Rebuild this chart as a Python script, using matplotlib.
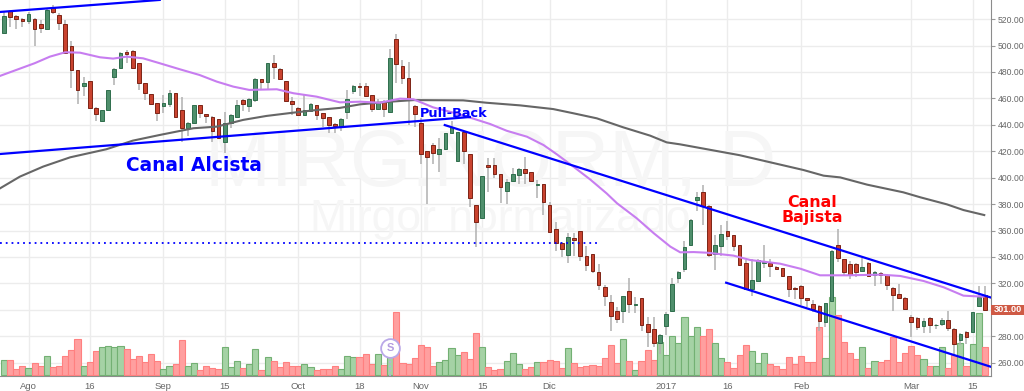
import matplotlib
matplotlib.use("Agg")
import matplotlib.pyplot as plt
from matplotlib.patches import Rectangle

# candles, one row per trading day: open, high, low, close
candles = [
    (509.8,525.4,509.8,522.4),(526.4,526.9,513.8,521.9),(522.4,522.9,512.8,519.9),(520.1,520.6,513.8,518.6),
    (518.6,525.7,516.3,523.7),(519.9,520.6,499.9,512.5),(516.3,519.4,509.3,513.1),(512.8,527.4,512.3,526.7),
    (528.4,531.0,523.7,525.7),(522.9,524.4,511.8,517.4),(516.3,519.4,493.6,494.1),(499.7,503.7,467.6,481.5),
    (481.5,481.5,455.8,466.6),(469.4,476.0,461.8,471.4),(473.4,473.4,452.3,452.8),(452.8,453.3,443.2,448.5),
    (442.7,451.2,442.4,451.0),(451.0,466.4,450.7,466.4),(476.0,483.0,469.9,482.3),(483.3,495.4,482.8,494.1),
    (494.9,496.7,486.6,493.4),(495.9,496.7,482.3,482.8),(486.6,486.6,466.4,471.4),(471.4,471.4,458.8,464.1),
    (463.1,463.1,455.0,455.5),(456.3,456.3,443.2,448.7),(454.5,462.6,448.7,456.3),(455.8,466.4,453.8,464.1),
    (464.4,464.4,445.7,446.2),(451.0,461.3,427.3,437.9),(437.9,442.4,431.8,441.4),(441.4,455.0,440.6,454.8),
    (454.8,454.8,444.9,449.2),(448.0,448.0,441.7,446.4),(446.2,446.7,426.8,435.3),(444.4,444.4,429.5,430.1),
    (427.3,450.0,418.9,441.2),(441.2,448.2,437.4,447.7),(446.2,458.8,445.7,455.3),(458.6,459.8,450.7,455.5),
    (454.3,460.1,450.0,459.6),(458.8,475.2,457.5,474.5),(474.5,475.0,466.4,472.4),(472.7,487.1,466.9,486.6),
    (486.6,493.1,475.0,483.8),(482.0,482.8,474.0,474.5),(473.2,473.2,457.8,458.3),(458.3,461.3,447.5,455.5),
    (452.8,453.8,446.7,447.2),(447.7,462.6,447.5,451.0),(450.2,456.3,449.7,455.5),(455.3,455.3,443.7,447.7),
    (448.7,449.2,438.6,445.4),(445.7,446.2,433.6,439.6),(440.4,441.2,433.6,439.1),(438.6,444.9,435.3,444.1),
    (449.7,466.3,444.6,459.5),(465.8,469.8,463.3,469.3),(469.6,471.9,461.8,468.8),(469.1,471.4,461.3,462.0),
    (462.3,462.8,449.9,452.2),(451.7,459.3,451.2,457.2),(457.0,458.7,446.1,451.7),(449.7,497.1,449.2,490.8),
    (504.9,508.5,471.4,485.7),(484.5,489.0,470.9,475.7),(475.7,487.8,439.8,458.7),(454.5,455.0,438.1,448.4),
    (441.1,444.9,410.3,417.9),(419.9,420.4,379.8,415.6),(424.4,426.5,410.3,418.4),(418.1,429.7,404.5,421.7),
    (421.4,434.0,420.9,433.5),(434.0,442.9,433.5,438.1),(412.6,434.8,412.1,434.3),(434.3,434.8,410.3,419.9),
    (417.6,417.6,378.0,384.3),(379.3,379.3,347.7,366.7),(369.2,401.5,368.9,401.5),(409.8,414.6,389.4,408.3),
    (409.3,414.6,400.0,403.0),(402.5,402.5,380.5,392.6),(390.1,398.7,380.0,396.4),(397.4,407.0,396.9,402.7),
    (402.2,407.0,395.2,406.8),(406.8,415.4,395.2,403.7),(404.2,404.5,396.7,397.2),(394.7,398.2,384.3,395.4),
    (395.4,395.4,371.7,381.3),(379.3,381.3,359.1,359.1),(360.9,366.2,344.8,350.8),(350.8,351.6,339.7,346.3),
    (341.7,357.9,335.7,354.9),(354.6,358.4,340.7,353.1),(359.7,359.7,337.2,340.7),(341.0,348.3,329.6,334.2),
    (342.3,342.3,327.6,329.1),(328.4,334.7,315.0,319.0),(317.5,319.0,302.9,310.7),(306.2,311.2,284.2,295.6),
    (298.9,302.4,290.3,292.8),(298.9,310.5,289.8,310.2),(314.5,323.8,297.9,304.2),(303.9,309.5,297.9,304.4),
    (309.2,309.2,284.2,288.5),(289.3,294.3,271.6,283.5),(285.2,294.3,271.6,274.6),(274.6,281.7,266.3,280.7),
    (288.0,298.6,280.9,296.8),(298.9,324.1,298.4,319.3),(323.8,329.6,320.0,328.4),(331.1,352.3,328.8,347.3),
    (349.0,368.5,348.5,368.0),(383.3,389.4,375.0,385.1),(389.4,394.4,364.2,378.6),(378.6,379.1,339.7,341.2),
    (342.5,356.6,330.1,348.8),(348.3,364.2,340.7,357.1),(359.4,367.2,352.8,356.1),(356.3,356.6,344.7,348.3),
    (348.8,348.8,333.6,334.1),(335.2,337.7,315.5,316.0),(316.0,338.2,310.4,322.3),(321.8,338.2,321.5,337.4),
    (335.2,349.0,331.4,336.2),(335.7,338.2,325.1,333.4),(332.4,333.1,330.6,331.1),(331.4,331.9,325.1,325.6),
    (325.3,325.6,309.4,316.0),(316.7,317.5,307.9,316.0),(318.0,318.5,303.6,308.9),(308.7,308.9,301.8,307.1),
    (304.1,307.4,298.6,300.6),(302.9,303.6,283.9,291.5),(290.7,305.4,287.2,304.9),(306.9,345.2,306.9,344.2),
    (348.8,360.9,336.4,338.9),(338.2,338.7,325.6,328.8),(334.4,337.2,323.5,326.6),(334.4,335.2,325.1,328.6),
    (329.6,338.9,329.4,332.4),(335.7,336.2,324.6,325.6),(326.3,329.4,318.0,328.8),(328.1,328.6,319.5,326.3),
    (326.1,326.8,315.0,318.5),(316.2,317.5,299.3,311.2),(311.7,319.5,307.9,308.7),(309.2,309.4,299.8,300.6),
    (294.8,295.8,279.7,291.0),(294.0,294.5,284.7,286.7),(287.5,294.0,282.2,291.2),(294.0,294.5,282.2,288.5),
    (288.2,289.2,285.2,288.7),(289.0,294.0,287.7,292.0),(292.3,299.3,284.2,286.2),(285.7,286.0,266.5,274.4),
    (276.9,282.7,273.3,281.4),(283.4,284.2,274.1,279.1),(283.2,298.6,282.7,298.1),(302.6,318.0,301.8,309.9),
    (311.4,318.0,299.6,300.1),
]

volume = [
    45,45,18,28,21,36,27,57,24,28,58,76,109,28,39,72,85,88,84,88,78,48,58,39,63,42,18,27,34,106,
    28,36,16,29,22,19,86,24,42,22,34,78,16,54,43,25,41,27,27,33,24,15,18,18,28,18,57,54,54,64,
    34,64,30,54,190,37,34,53,91,86,29,39,45,81,61,69,49,126,86,24,17,19,42,66,33,18,24,40,40,46,
    43,22,81,38,25,29,31,27,53,91,38,109,42,16,42,76,45,101,62,119,96,174,119,146,119,139,98,52,40,23,
    62,92,72,38,67,35,29,19,56,35,59,41,39,146,52,236,182,101,68,49,86,23,44,39,47,114,39,68,89,61,
    48,29,27,84,22,61,96,29,94,188,84,
]

ma_fast_x = [-0.65,5,7.5,10,12.4,15.65,17.8,20,22.7,25.4,28.7,31.9,34.7,37.4,40,44.5,47.2,51,54.8,58.1,61.3,64.6,66.8,70,73.3,76.6,79.3,82,85.3,88,90.2,92.9,95.6,98.3,100,103.2,106,108.7,110.3,112.5,114.7,119,121.7,126.6,129.9,133.1,137.5,143,146.2,150,153.3,156.5,159.8]
ma_fast_y = [477,486.6,491.6,494.9,494.6,491.1,490.1,491.6,490.3,486.6,482,477.7,472.7,468.9,466.4,466.9,463.9,461.3,457,457.5,456.7,459.8,459.3,453.2,449.2,444.6,440.6,435.5,431,424.7,417.6,408.3,398.7,388.1,380.6,369.3,357.9,347.8,343.5,343.7,343.2,341,337.7,334.9,331.1,326.1,326.1,326.6,325.6,321.8,317,310.7,309.9]
ma_slow_x = [-0.65,2.6,6.4,10.8,16.7,21,25.4,30.9,34.7,39,42.8,47.2,51,54.8,58.1,63,66.8,74.9,78.7,84.2,89.6,92.9,96.7,101,105.4,108.1,110.3,120,130.4,133.7,136.4,140.8,146.7,149.5,153.8,156.5,159.9]
ma_slow_y = [391.9,400.8,408.4,415.4,421.5,428,432.3,437.4,438.6,443.7,446.7,449.2,451.2,452.8,455.5,457.5,458.7,458.5,456.7,454.7,451.9,448.7,444.9,438.1,431.8,426.7,425.2,417,405.8,401.5,400.2,394.7,388.9,385.1,379.8,375.5,371.7]

# trend lines drawn by hand on the chart: (x0, y0, x1, y1)
trend_lines = [
    (-0.65,525.4,25.4,534.5),
    (-0.65,417.9,76,445.9),
    (71.9,439.8,160.9,309.4),
    (117.8,320.5,160.9,257),
]
support_level = 350.3
support_end = 96.9

x_ticks = [4,14,26,36,48,58,68,78,89,108,118,130,148,158]
x_labels = ["Ago","16","Sep","15","Oct","18","Nov","15","Dic","2017","16","Feb","Mar","15"]
y_ticks = list(range(260,521,20))
last_price = 301.00

UP = "#4f8f6c"
UP_EDGE = "#2f6e4c"
DOWN = "#c9432f"
DOWN_EDGE = "#7c2416"
BLUE = "#0000ff"

plt.rcParams["font.family"] = ["Liberation Sans", "DejaVu Sans"]

rect = [0, 1-376/391, 991/1024, 376/391]
x_range = (-0.65,161)
y_range = (249.9,534.45)

fig = plt.figure(figsize=(10.24,3.91), dpi=100)

# bottom layer: grid, labels and watermark
ax = fig.add_axes(rect, zorder=1)
ax.set_xlim(x_range)
ax.set_ylim(y_range)
ax.set_xticks(x_ticks)
ax.set_xticklabels(x_labels)
ax.set_yticks(y_ticks)
ax.set_yticklabels([f"{v:.2f}" for v in y_ticks])
ax.yaxis.tick_right()
ax.grid(True, color="#ececec", lw=1)
ax.tick_params(axis="y", colors="#666666", labelsize=6.2, length=3, pad=2, color="#999999")
ax.tick_params(axis="x", colors="#666666", labelsize=6.8, length=0, pad=4)
for side in ["top","left"]:
    ax.spines[side].set_visible(False)
for side in ["right","bottom"]:
    ax.spines[side].set_color("#8c8c8c")

ax.text(0.495, 0.56, "MIRG:NORM, D", transform=ax.transAxes, ha="center", va="center",
        fontsize=57, color="#f6f6f6")
ax.text(0.505, 0.415, "Mirgor normalizado", transform=ax.transAxes, ha="center", va="center",
        fontsize=32, color="#f6f6f6")

# volume on its own hidden scale
vax = fig.add_axes(rect, zorder=2)
vax.set_xlim(x_range)
vax.set_ylim(-2,1128)
vax.axis("off")
for i,v in enumerate(volume):
    up = candles[i][3] >= candles[i][0]
    vax.bar(i, v, width=1.0, color="#a5d2a5" if up else "#ff9f9f",
            edgecolor="#73b073" if up else "#ff8080", lw=0.8)

# top layer: price marks
pax = fig.add_axes(rect, zorder=3)
pax.set_xlim(x_range)
pax.set_ylim(y_range)
pax.axis("off")

for i,(o,h,l,c) in enumerate(candles):
    up = c >= o
    pax.vlines(i, l, h, color="#b0b0b0", lw=1.1, zorder=3)
    pax.bar(i, abs(c-o), bottom=min(o,c), width=0.6, color=UP if up else DOWN,
            edgecolor=UP_EDGE if up else DOWN_EDGE, lw=0.7, zorder=4)

pax.plot(ma_slow_x, ma_slow_y, color="#666666", lw=1.5, zorder=5)
pax.plot(ma_fast_x, ma_fast_y, color="#c77df0", lw=1.5, zorder=5)
for x0,y0,x1,y1 in trend_lines:
    pax.plot([x0,x1], [y0,y1], color=BLUE, lw=1.6, zorder=6)
pax.plot([-0.65,support_end], [support_level,support_level], color=BLUE, lw=1.3, ls=(0,(1,2.2)), zorder=6)

pax.text(31, 409.5, "Canal Alcista", color=BLUE, fontsize=13.4, fontweight="bold",
         family="DejaVu Sans", ha="center", va="center", zorder=7)
pax.text(73.3, 448.9, "Pull-Back", color=BLUE, fontsize=9.3, fontweight="bold",
         family="DejaVu Sans", ha="center", va="center", zorder=7)
pax.text(131.9, 375.8, "Canal\nBajista", color="#ff0000", fontsize=11.4, fontweight="bold",
         family="DejaVu Sans", ha="center", va="center", linespacing=1.0, zorder=7)

# split marker on the volume pane
pax.plot([63,63], [250,264], color="#b9a8e8", lw=1.2, ls=":", zorder=7)
pax.plot(63, 271, "o", ms=13.5, mfc="white", mec="#b9a8e8", mew=1.3, zorder=7)
pax.text(63, 271, "S", color="#b39ce0", fontsize=8, fontweight="bold", ha="center", va="center", zorder=8)

# last price badge over the scale
trans = pax.get_yaxis_transform()
pax.add_patch(Rectangle((1, last_price-5.2), 33/991, 8.2, transform=trans, clip_on=False,
                        fc="#cf5a45", ec="none", zorder=9))
pax.text(1+16.5/991, last_price-1.1, f"{last_price:.2f}", transform=trans, color="white", fontsize=6.6,
         fontweight="bold", ha="center", va="center", clip_on=False, zorder=10)

fig.savefig("out.png", dpi=100)
